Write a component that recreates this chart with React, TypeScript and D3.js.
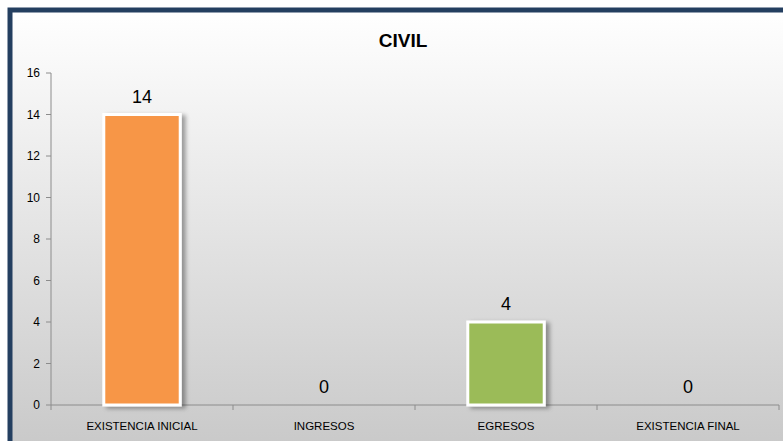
import { useEffect, useRef } from 'react';
import * as d3 from 'd3';

const categories = ['EXISTENCIA INICIAL', 'INGRESOS', 'EGRESOS', 'EXISTENCIA FINAL'];
const values = [14, 0, 4, 0];
const barColors = ['#F79646', '#F79646', '#9BBB59', '#9BBB59'];
const yTicks = [0, 2, 4, 6, 8, 10, 12, 14, 16];
const title = 'CIVIL';

const W = 783;
const H = 441;

export default function App() {
  const svgRef = useRef<SVGSVGElement>(null);

  useEffect(() => {
    if (!svgRef.current) return;
    const svg = d3.select(svgRef.current);
    svg.selectAll('*').remove();

    const defs = svg.append('defs');
    const grad = defs.append('linearGradient')
      .attr('id', 'bg')
      .attr('x1', 0).attr('y1', 0).attr('x2', 0).attr('y2', 1);
    grad.append('stop').attr('offset', '0%').attr('stop-color', '#ffffff');
    grad.append('stop').attr('offset', '100%').attr('stop-color', '#c6c6c6');

    const shadow = defs.append('filter').attr('id', 'shadow')
      .attr('x', '-20%').attr('y', '-20%').attr('width', '150%').attr('height', '140%');
    shadow.append('feDropShadow')
      .attr('dx', 4).attr('dy', 2).attr('stdDeviation', 2)
      .attr('flood-color', '#000').attr('flood-opacity', 0.35);

    svg.append('rect').attr('width', W).attr('height', H).attr('fill', '#ffffff');

    // frame
    svg.append('rect')
      .attr('x', 10).attr('y', 10)
      .attr('width', W + 20).attr('height', H + 20)
      .attr('fill', 'url(#bg)')
      .attr('stroke', '#243F60')
      .attr('stroke-width', 5);

    svg.append('text')
      .attr('x', 403).attr('y', 47)
      .attr('text-anchor', 'middle')
      .attr('font-family', 'Liberation Sans, Arial, sans-serif')
      .attr('font-weight', 'bold')
      .attr('font-size', 19)
      .attr('fill', '#000')
      .text(title);

    const x = d3.scaleBand<string>()
      .domain(categories)
      .range([51, 779])
      .paddingInner(0.58)
      .paddingOuter(0.29);

    const y = d3.scaleLinear().domain([0, 16]).range([405, 73]);

    const g = svg.append('g');

    // y axis
    g.append('line')
      .attr('x1', 51).attr('x2', 51)
      .attr('y1', y(16)).attr('y2', y(0))
      .attr('stroke', '#8c8c8c');
    g.selectAll('.ytick')
      .data(yTicks)
      .join('line')
      .attr('x1', 46).attr('x2', 51)
      .attr('y1', d => y(d)).attr('y2', d => y(d))
      .attr('stroke', '#8c8c8c');
    g.selectAll('.ylab')
      .data(yTicks)
      .join('text')
      .attr('x', 40)
      .attr('y', d => y(d) + 4)
      .attr('text-anchor', 'end')
      .attr('font-family', 'Liberation Sans, Arial, sans-serif')
      .attr('font-size', 12)
      .attr('fill', '#000')
      .text(d => d);

    // x axis
    const step = (779 - 51) / categories.length;
    g.append('line')
      .attr('x1', 51).attr('x2', 779)
      .attr('y1', y(0)).attr('y2', y(0))
      .attr('stroke', '#8c8c8c');
    g.selectAll('.xtick')
      .data(d3.range(categories.length + 1))
      .join('line')
      .attr('x1', i => 51 + i * step).attr('x2', i => 51 + i * step)
      .attr('y1', y(0)).attr('y2', y(0) + 5)
      .attr('stroke', '#8c8c8c');
    g.selectAll('.xlab')
      .data(categories)
      .join('text')
      .attr('x', d => (x(d) ?? 0) + x.bandwidth() / 2)
      .attr('y', 430)
      .attr('text-anchor', 'middle')
      .attr('font-family', 'Liberation Sans, Arial, sans-serif')
      .attr('font-size', 11.5)
      .attr('fill', '#000')
      .text(d => d);

    // bars
    g.selectAll('.bar')
      .data(values.map((v, i) => ({ v, c: categories[i], color: barColors[i] })).filter(d => d.v > 0))
      .join('rect')
      .attr('x', d => x(d.c) ?? 0)
      .attr('y', d => y(d.v))
      .attr('width', x.bandwidth())
      .attr('height', d => y(0) - y(d.v))
      .attr('fill', d => d.color)
      .attr('stroke', '#ffffff')
      .attr('stroke-width', 3)
      .attr('filter', 'url(#shadow)');

    // value labels
    g.selectAll('.vlab')
      .data(values.map((v, i) => ({ v, c: categories[i] })))
      .join('text')
      .attr('x', d => (x(d.c) ?? 0) + x.bandwidth() / 2)
      .attr('y', d => y(d.v) - 12)
      .attr('text-anchor', 'middle')
      .attr('font-family', 'Liberation Sans, Arial, sans-serif')
      .attr('font-size', 18)
      .attr('fill', '#000')
      .text(d => d.v);
  }, []);

  return (
    <svg
      ref={svgRef}
      width={W}
      height={H}
      style={{ position: 'absolute', left: 0, top: 0, display: 'block' }}
    />
  );
}
